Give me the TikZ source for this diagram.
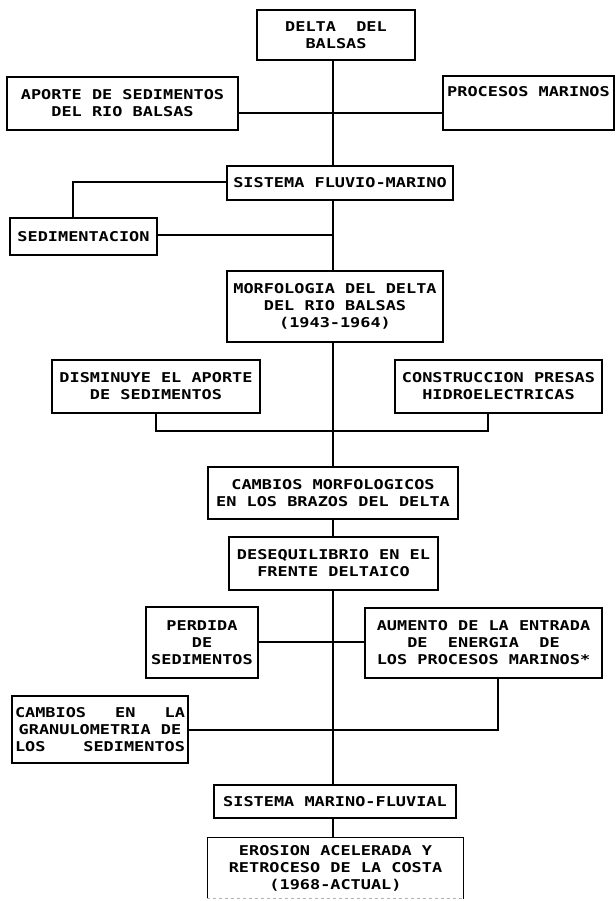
\documentclass[tikz,border=0pt]{standalone}
\usepackage{fontspec}
\newfontfamily\dotfont[FakeStretch=1.25]{DejaVu Sans Mono}
\begin{document}
\begin{tikzpicture}[x=1pt,y=-1pt,
  box/.style={draw=black, line width=1.3pt, inner sep=0pt, align=center,
    font=\dotfont\bfseries\fontsize{13.5}{17}\selectfont},
  conn/.style={draw=black, line width=1.3pt}]
\useasboundingbox (0,0) rectangle (615,901);
\fill[white] (0,0) rectangle (615,901);
\coordinate (sp) at (333,0);
\node[box, minimum width=158pt, minimum height=50pt] (delta) at (336,35) {DELTA\ \ DEL\\BALSAS};
\node[box, minimum width=231pt, minimum height=53pt] (aporte) at (122.5,103.5) {APORTE DE SEDIMENTOS\\DEL RIO BALSAS};
\node[box, minimum width=171pt, minimum height=54pt, align=left] (procesos) at (528.5,103) {PROCESOS MARINOS\\\strut};
\node[box, minimum width=226pt, minimum height=34pt] (sfm) at (340,183) {SISTEMA FLUVIO-MARINO};
\node[box, minimum width=147pt, minimum height=37pt] (sedim) at (83.5,236.5) {SEDIMENTACION};
\node[box, minimum width=216pt, minimum height=71pt] (morf) at (335,306.5) {MORFOLOGIA DEL DELTA\\DEL RIO BALSAS\\(1943-1964)};
\node[box, minimum width=208pt, minimum height=53pt] (dism) at (156,386.5) {DISMINUYE EL APORTE\\DE SEDIMENTOS};
\node[box, minimum width=207pt, minimum height=53pt] (constr) at (498.5,386.5) {CONSTRUCCION PRESAS\\HIDROELECTRICAS};
\node[box, minimum width=250pt, minimum height=52pt] (cmorf) at (333,493) {CAMBIOS MORFOLOGICOS\\EN LOS BRAZOS DEL DELTA};
\node[box, minimum width=209pt, minimum height=53pt] (deseq) at (333.5,563.5) {DESEQUILIBRIO EN EL\\FRENTE DELTAICO};
\node[box, minimum width=112pt, minimum height=71pt] (perd) at (202,642.5) {PERDIDA\\DE\\SEDIMENTOS};
\node[box, minimum width=237pt, minimum height=70pt] (aum) at (483.5,643) {AUMENTO DE LA ENTRADA\\DE\ \ ENERGIA\ \ DE\\LOS PROCESOS MARINOS*};
\node[box, minimum width=176pt, minimum height=67pt] (cgran) at (100,729.5) {\hbox to 170pt{CAMBIOS\hfil EN\hfil LA}\\GRANULOMETRIA DE\\\hbox to 170pt{LOS\hfil SEDIMENTOS}};
\node[box, minimum width=242pt, minimum height=33pt] (smf) at (335,801.5) {SISTEMA MARINO-FLUVIAL};
\node[box, draw=none, minimum width=255pt, minimum height=60pt] (eros) at (335.5,868) {EROSION ACELERADA Y\\RETROCESO DE LA COSTA\\(1968-ACTUAL)};
\draw[conn] (eros.south west) -- (eros.north west) -- (eros.north east) -- (eros.south east);
\draw[line width=1.3pt, gray!60, dashed] (eros.south west) -- (eros.south east);
% helper coordinates
\coordinate (sedtop) at ([xshift=-10.5pt]sedim.north);
\coordinate (consb) at ([xshift=-10.5pt]constr.south);
\coordinate (aumb) at ([xshift=14.5pt]aum.south);
% connectors
\draw[conn] (delta.south -| sp) -- (sfm.north -| sp);
\draw[conn] (aporte.east |- 0,113) -- (procesos.west |- 0,113);
\draw[conn] (sfm.west |- 0,182) -| (sedtop);
\draw[conn] (sedim.east |- 0,235) -- (sp |- 0,235);
\draw[conn] (sfm.south -| sp) -- (morf.north -| sp);
\draw[conn] (morf.south -| sp) -- (cmorf.north -| sp);
\draw[conn] (dism.south) -- (dism.south |- 0,431) -- (consb |- 0,431) -- (consb);
\draw[conn] (cmorf.south -| sp) -- (deseq.north -| sp);
\draw[conn] (deseq.south -| sp) -- (smf.north -| sp);
\draw[conn] (perd.east |- 0,642) -- (aum.west |- 0,642);
\draw[conn] (cgran.east |- 0,730) -| (aumb);
\draw[conn] (smf.south -| sp) -- (eros.north -| sp);
\end{tikzpicture}
\end{document}
